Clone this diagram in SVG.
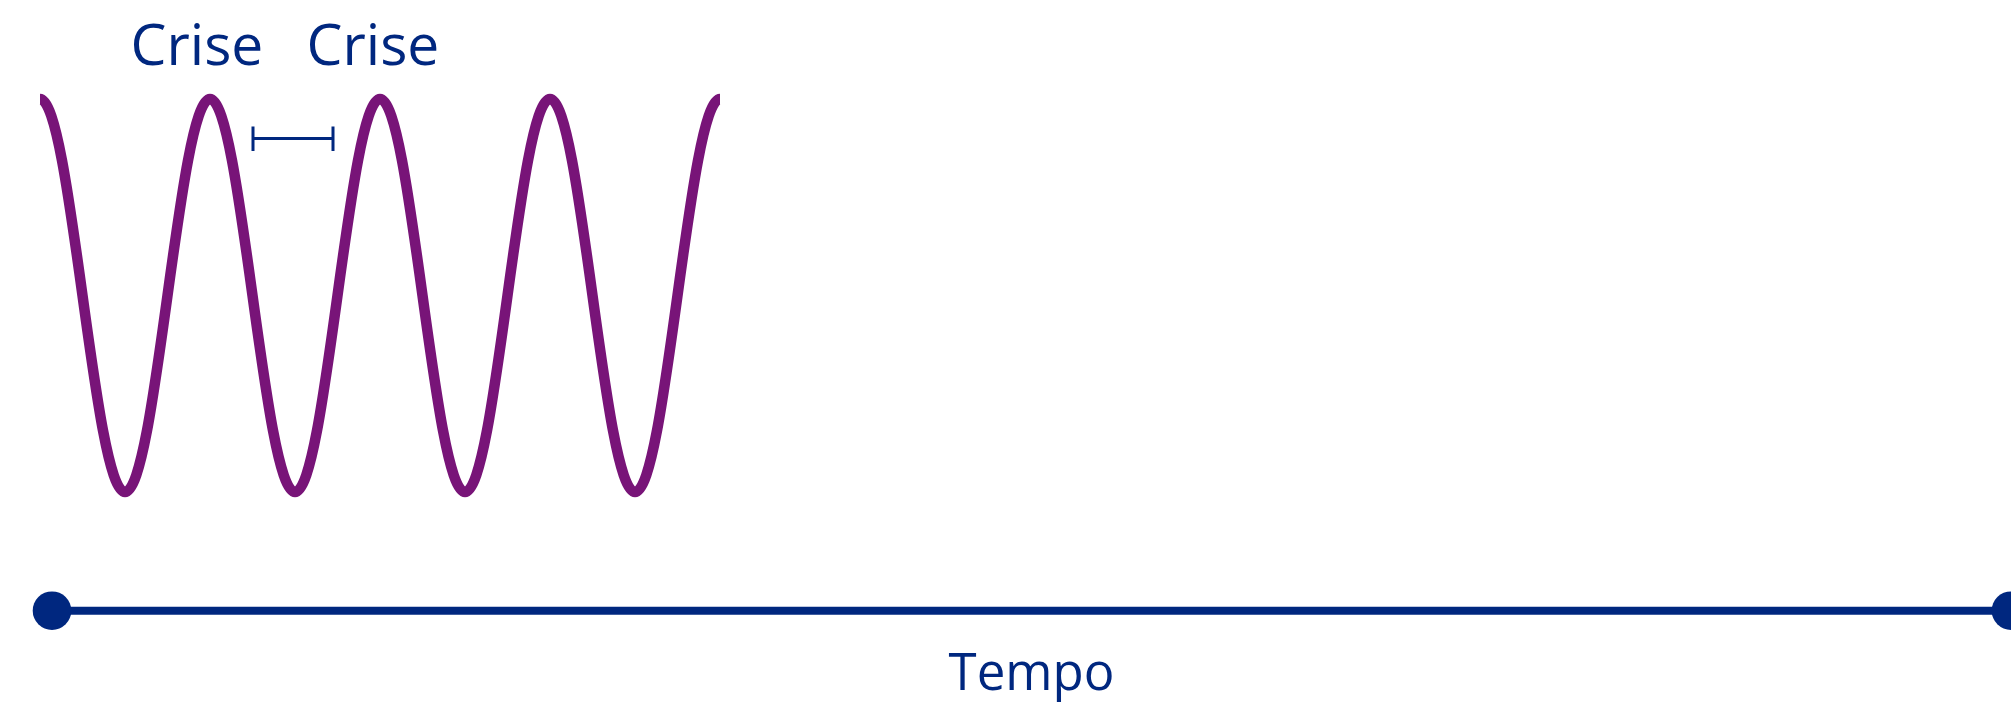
<svg xmlns="http://www.w3.org/2000/svg" width="2011" height="703" viewBox="0 0 2011 703">
<style>
.lbl{font-family:"Open Sans","Noto Sans","Liberation Sans",sans-serif;fill:#00277f;text-anchor:middle}
.wave{fill:none;stroke:#781478;stroke-width:10.5;stroke-linecap:butt;stroke-linejoin:round}
.axis{stroke:#00277f;stroke-width:8;fill:none}
.dot{fill:#00277f}
.brk{stroke:#00277f;stroke-width:3;fill:none}
</style>
<rect width="2011" height="703" fill="#ffffff"/>
<g id="labels">
<text class="lbl" x="197" y="65" font-size="57">Crise</text>
<text class="lbl" x="373" y="65" font-size="57">Crise</text>
</g>
<g id="wave">
<path class="wave" d="M40,99 C71,99 94,492 125,492 S179,99 210,99 S264,492 295,492 S349,99 380,99 S434,492 465,492 S519,99 550,99 S604,492 635,492 S689,99 720,99"/>
</g>
<g id="interval">
<path class="brk" d="M253,126.5 V151 M253,138.5 H333 M333,126.5 V151"/>
</g>
<g id="connectors">
<line class="axis" x1="52" y1="610.7" x2="2011" y2="610.7"/>
</g>
<g id="start">
<circle class="dot" cx="52" cy="610.7" r="19.3"/>
</g>
<g id="end">
<circle class="dot" cx="2011" cy="610.7" r="19.3"/>
</g>
<g id="axis-label">
<text class="lbl" x="1031.5" y="690" font-size="51">Tempo</text>
</g>
</svg>
